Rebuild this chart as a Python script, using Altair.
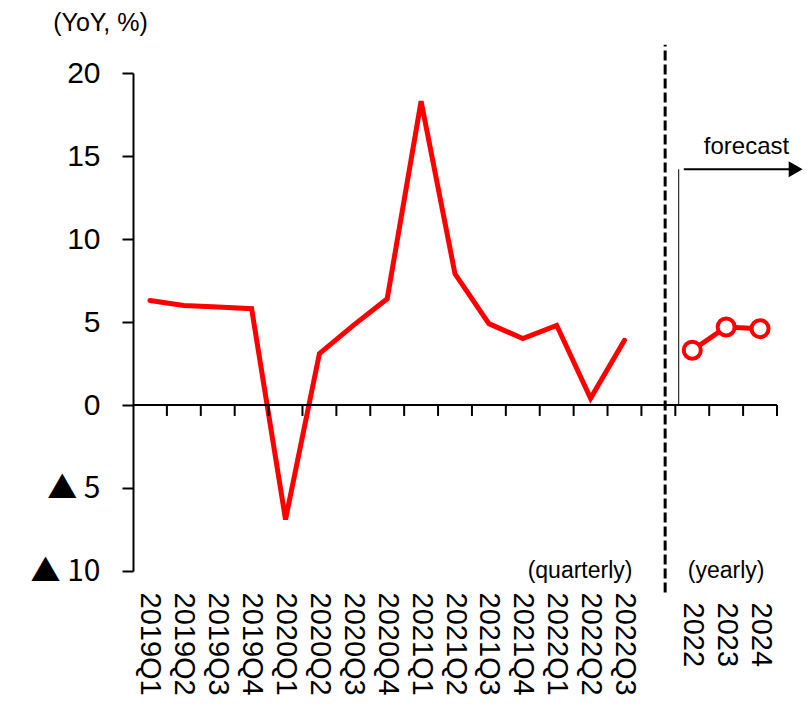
import altair as alt
import pandas as pd

FONT = "Liberation Sans, Arial, sans-serif"
TRI_FONT = "Noto Sans CJK JP, Liberation Sans, sans-serif"

# ---- data ----
quarters = ["2019Q1", "2019Q2", "2019Q3", "2019Q4", "2020Q1", "2020Q2", "2020Q3",
            "2020Q4", "2021Q1", "2021Q2", "2021Q3", "2021Q4", "2022Q1", "2022Q2", "2022Q3"]
q_values = [6.3, 6.0, 5.9, 5.8, -6.9, 3.1, 4.8, 6.4, 18.3, 7.9, 4.9, 4.0, 4.8, 0.4, 3.9]
years = ["2022", "2023", "2024"]
y_values = [3.3, 4.7, 4.6]
y_ticks = [-10, -5, 0, 5, 10, 15, 20]

# slots on the category axis: quarters, one empty slot, years
slots = quarters + [""] + years
n_slots = len(slots)
q_pos = [slots.index(q) + 0.5 for q in quarters]
y_pos = [slots.index(y) + 0.5 for y in years]

df_q = pd.DataFrame({"x": q_pos, "v": q_values, "label": quarters})
df_y = pd.DataFrame({"x": y_pos, "v": y_values, "label": years})

label_array = "[" + ",".join("'" + s + "'" for s in slots) + "]"

xscale = alt.Scale(domain=[0, n_slots], nice=False, zero=False)
yscale = alt.Scale(domain=[-10, 20], nice=False, zero=False)

x_axis = alt.Axis(
    values=q_pos + y_pos,
    labelExpr=label_array + "[floor(datum.value)]",
    labelAngle=90, labelAlign="left", labelBaseline="middle",
    labelPadding={"condition": {"test": "datum.value > 16", "value": 31}, "value": 21},
    labelFont=FONT, labelFontSize=29, labelColor="black",
    labelOverlap=False, labelFlush=False, labelBound=False,
    domain=False, ticks=False, grid=False, title=None,
)
y_axis = alt.Axis(
    values=y_ticks,
    labelExpr="datum.value < 0 ? '\u25b2  ' + (-datum.value) : '' + datum.value",
    labelFont={"condition": {"test": "datum.value < 0", "value": TRI_FONT}, "value": FONT},
    labelFontSize=30, labelColor="black", labelPadding=22,
    labelOverlap=False, labelFlush=False,
    tickSize=11, tickWidth=2, tickColor="black",
    domainColor="black", domainWidth=2, grid=False,
    title="(YoY, %)", titleAngle=0, titleAlign="center", titleBaseline="alphabetic",
    titleX=-33, titleY=-43, titleFont=FONT, titleFontSize=25, titleFontWeight="normal",
    titleColor="black",
)

X = lambda f="x": alt.X(f + ":Q", scale=xscale, axis=x_axis)
Y = lambda f="v": alt.Y(f + ":Q", scale=yscale, axis=y_axis)

# quarterly line
q_line = alt.Chart(df_q).mark_line(color="#FF0000", strokeWidth=5, strokeCap="round").encode(
    x=X(), y=Y())

# zero baseline
zero_df = pd.DataFrame({"x": [0], "x2": [n_slots], "y": [0]})
zero_line = alt.Chart(zero_df).mark_rule(color="black", strokeWidth=2).encode(
    x=X(), x2="x2:Q", y=Y("y"))

# category boundary ticks below the zero line
tick_df = pd.DataFrame({"x": list(range(1, n_slots + 1)), "y": 0.0, "y2": -0.66})
ticks = alt.Chart(tick_df).mark_rule(color="black", strokeWidth=2).encode(
    x=X(), y=Y("y"), y2="y2:Q")

# dashed separator
dash_df = pd.DataFrame({"x": [15.7], "y": [-11.3], "y2": [21.7]})
dashed = alt.Chart(dash_df).mark_rule(color="black", strokeWidth=3, strokeDash=[10, 4]).encode(
    x=X(), y=Y("y"), y2="y2:Q")

# thin forecast marker
thin_df = pd.DataFrame({"x": [16.1], "y": [0], "y2": [14.2]})
thin = alt.Chart(thin_df).mark_rule(color="black", strokeWidth=1).encode(
    x=X(), y=Y("y"), y2="y2:Q")

# arrow shaft and head
arrow_df = pd.DataFrame({"x": [16.25], "x2": [19.4], "y": [14.2]})
arrow = alt.Chart(arrow_df).mark_rule(color="black", strokeWidth=2).encode(
    x=X(), x2="x2:Q", y=Y("y"))
head_df = pd.DataFrame({"x": [19.55], "y": [14.2]})
head = alt.Chart(head_df).mark_point(shape="triangle-right", filled=True, color="black",
                                      size=260, opacity=1).encode(x=X(), y=Y("y"))

# forecast line with hollow markers
f_line = alt.Chart(df_y).mark_line(color="#FF0000", strokeWidth=5).encode(x=X(), y=Y())
f_pts = alt.Chart(df_y).mark_point(shape="circle", filled=True, fill="white", stroke="#FF0000",
                                    strokeWidth=4, size=290, opacity=1).encode(x=X(), y=Y())

# texts
fc_df = pd.DataFrame({"x": [18.1], "y": [15.1], "t": ["forecast"]})
fc_text = alt.Chart(fc_df).mark_text(font=FONT, fontSize=24, color="black", align="center",
                                     baseline="alphabetic").encode(
    x=X(), y=Y("y"), text="t:N")
txt_df = pd.DataFrame({"x": [13.19, 17.5], "y": [-10, -10],
                       "t": ["(quarterly)", "(yearly)"]})
texts = alt.Chart(txt_df).mark_text(font=FONT, fontSize=23, color="black", align="center",
                                    baseline="middle").encode(
    x=X(), y=Y("y"), text="t:N")

chart = alt.layer(
    q_line, zero_line, ticks, dashed, thin, arrow, head, f_line, f_pts, fc_text, texts
).properties(
    width=644, height=498,
    background="white",
    autosize=alt.AutoSizeParams(type="none"),
    padding={"left": 125, "top": 65, "right": 26, "bottom": 125},
).configure_axis(
    labelOverlap=False
).configure_view(strokeWidth=0, stroke="transparent")

chart.save("out.html", embed_options={"renderer": "svg", "actions": False})
